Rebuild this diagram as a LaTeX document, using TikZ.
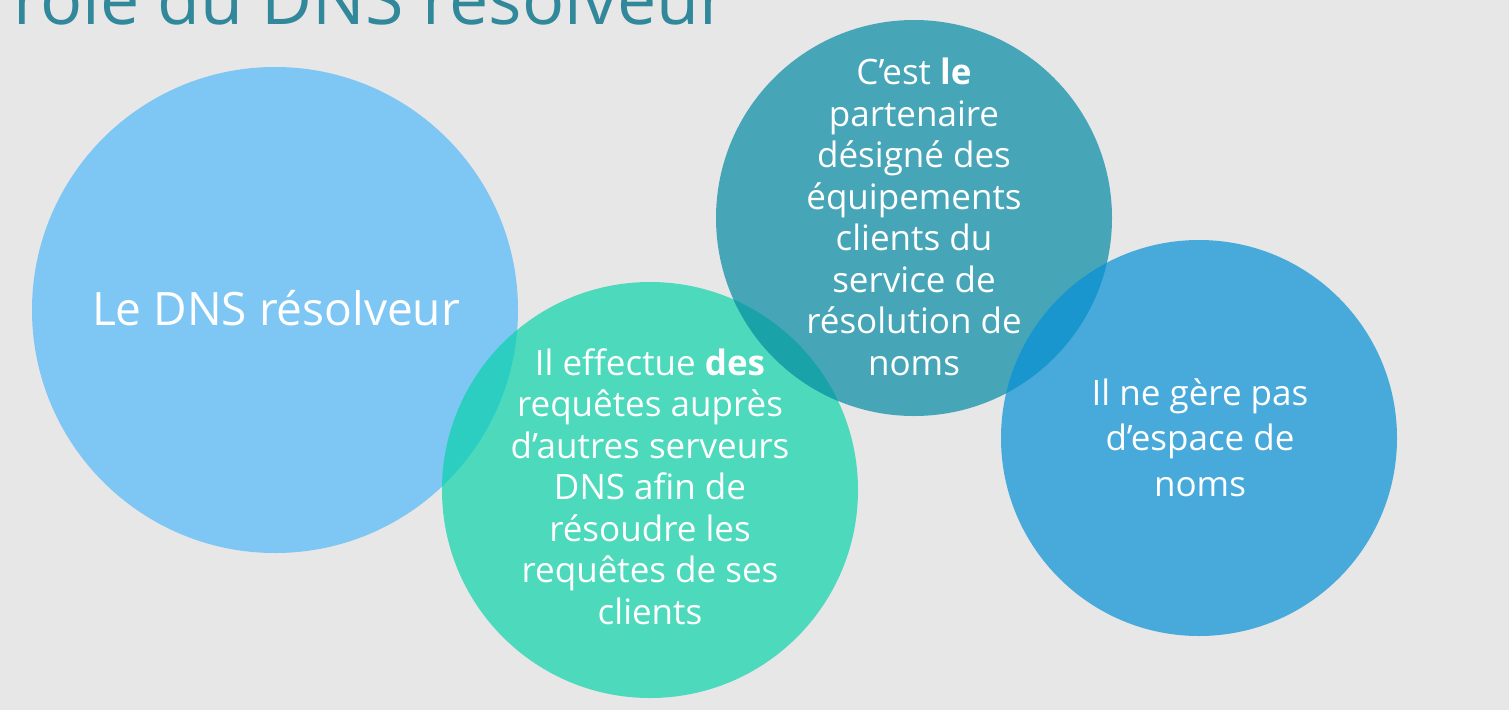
\documentclass[tikz,border=0pt]{standalone}
\usepackage{fontspec}
\setmainfont{Open Sans}
\definecolor{bg}{HTML}{E6E7E6}
\definecolor{titlec}{HTML}{31889A}
\definecolor{cA}{HTML}{7EC6F4}
\definecolor{cB}{HTML}{4DD9BB}
\definecolor{cC}{HTML}{47A5B8}
\definecolor{cD}{HTML}{47AADB}
\definecolor{oAB}{HTML}{2DCEC2}
\definecolor{oBC}{HTML}{19A3A9}
\definecolor{oCD}{HTML}{1A96CF}
\tikzset{
  bubble/.style={circle, inner sep=0pt, draw=none},
  btext/.style={text=white, align=center, font=\fontsize{35}{41.5}\selectfont},
}
\begin{document}
\begin{tikzpicture}[x=1pt,y=-1pt]
\useasboundingbox (0,0) rectangle (1509,710);
\clip (0,0) rectangle (1509,710);
\fill[bg] (0,0) rectangle (1509,710);
\node[anchor=base west, text=titlec, inner sep=0pt, font=\fontsize{70}{72}\selectfont] (title) at (13,24) {rôle du DNS résolveur};
% circles
\node[bubble, fill=cA, minimum size=486pt] (c1) at (275,310) {};
\node[bubble, fill=cB, minimum size=416pt] (c2) at (650,490) {};
\node[bubble, fill=cC, minimum size=396pt] (c3) at (914,218) {};
\node[bubble, fill=cD, minimum size=396pt] (c4) at (1199,438) {};
% overlaps
\begin{scope}
  \clip (275,310) circle (243pt);
  \fill[oAB] (650,490) circle (208pt);
\end{scope}
\begin{scope}
  \clip (650,490) circle (208pt);
  \fill[oBC] (914,218) circle (198pt);
\end{scope}
\begin{scope}
  \clip (914,218) circle (198pt);
  \fill[oCD] (1199,438) circle (198pt);
\end{scope}
% texts (base anchor = baseline of the last line)
\node[anchor=base, text=white, inner sep=0pt, font=\fontsize{46}{52}\selectfont] (t1) at (276,325) {Le DNS résolveur};
\node[btext, anchor=base, inner sep=0pt] (t2) at (650,624) {Il effectue \textbf{des}\\requêtes auprès\\d’autres serveurs\\DNS afin de\\résoudre les\\requêtes de ses\\clients};
\node[btext, anchor=base, inner sep=0pt] (t3) at (914,375) {C’est \textbf{le}\\partenaire\\désigné des\\équipements\\clients du\\service de\\résolution de\\noms};
\node[btext, anchor=base, inner sep=0pt, font=\fontsize{35}{45.5}\selectfont] (t4) at (1200,496) {Il ne gère pas\\d’espace de\\noms};
\end{tikzpicture}
\end{document}
